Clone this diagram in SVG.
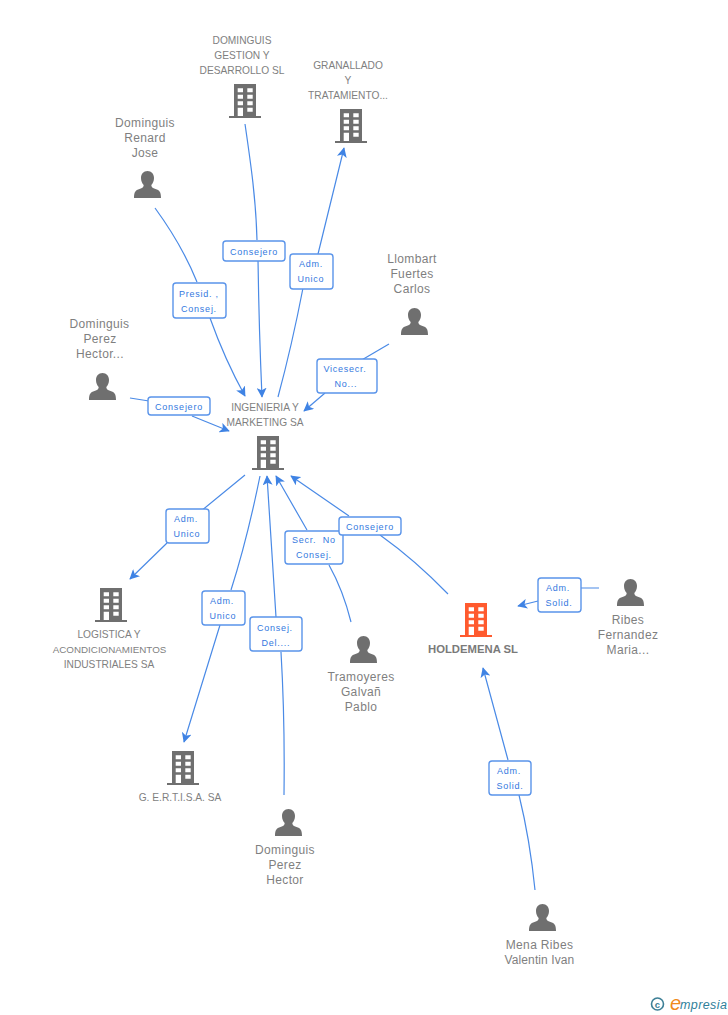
<svg xmlns="http://www.w3.org/2000/svg" width="728" height="1015" viewBox="0 0 728 1015">
<style>
text{font-family:"Liberation Sans",Arial,sans-serif}
.n{font-size:12px;fill:#7f7f7f;text-anchor:middle;letter-spacing:.35px}
.c{font-size:10.2px;fill:#7f7f7f;text-anchor:middle}
.h{font-size:11.300px;font-weight:bold;fill:#7a7a7a;text-anchor:middle}
.l{font-size:9px;fill:#3478e0;text-anchor:middle;letter-spacing:.75px}
.e{fill:none;stroke:#4a8ae6;stroke-width:1.2}
.b{fill:#fff;stroke:#5a94ea;stroke-width:1.4}
</style>
<defs>
<marker id="a" viewBox="0 0 12 12" refX="11" refY="6" markerWidth="10" markerHeight="10" markerUnits="userSpaceOnUse" orient="auto"><path d="M0 0L12 6L0 12L3 6Z" fill="#3f83e4"/></marker>
<g id="bd"><path fill-rule="evenodd" d="M-11 0H11V32H16V34H-16V32H-11ZM-7.300 4.300v4h5.300v-4ZM2.300 4.300v4h5.400v-4ZM-7.300 10.700v4h5.300v-4ZM2.300 10.700v4h5.400v-4ZM-7.300 17.300v4h5.300v-4ZM2.300 17.300v4h5.400v-4ZM-7.300 23.700V32H-2V23.700ZM2.300 23.700v4h5.400v-4Z"/></g>
<g id="pr"><path d="M0 0C4 0 6.500 3 6.500 7C6.500 10 5.300 12.500 3.800 14C3.800 16 5 17 8 18C12 19.300 13.500 21 13.500 27H-13.500C-13.500 21 -12 19.300 -8 18C-5 17 -3.800 16 -3.800 14C-5.300 12.500 -6.500 10 -6.500 7C-6.500 3 -4 0 0 0Z"/></g>
</defs>
<g id="connectors">
<path class="e" d="M245 124C251 165 256 200 257 240"/><path class="e" marker-end="url(#a)" d="M258 260Q259 330 262 397"/>
<path class="e" marker-end="url(#a)" d="M278 397Q292 345 303 288M318 254L344 148"/>
<path class="e" d="M155 208Q182 245 197 282"/><path class="e" marker-end="url(#a)" d="M210 318Q225 360 245 396"/>
<path class="e" d="M389 344L360 361"/><path class="e" marker-end="url(#a)" d="M325 393L304 411"/>
<path class="e" d="M130 398L149 401"/><path class="e" marker-end="url(#a)" d="M192 416L229 431"/>
<path class="e" d="M245 475L195 516M167 543L130 579" marker-end="url(#a)"/>
<path class="e" marker-end="url(#a)" d="M260 476Q247 540 231 590M220 625L184 742"/>
<path class="e" marker-end="url(#a)" d="M284 795Q285 720 281 652M276 617Q272 550 267 476"/>
<path class="e" marker-end="url(#a)" d="M351 622Q343 590 329 565M307 530L276 476"/>
<path class="e" marker-end="url(#a)" d="M448 594Q415 560 380 535M349 516L291 476"/>
<path class="e" marker-end="url(#a)" d="M599 588L581 588M538 601L518 606"/>
<path class="e" marker-end="url(#a)" d="M535 890Q530 840 519 795M508 760L483 668"/>
</g>
<g id="edge-labels">
<g><rect class="b" x="223" y="241" width="62" height="20" rx="3"/><text class="l" x="254" y="255">Consejero</text></g>
<g><rect class="b" x="290" y="254" width="43" height="35" rx="3"/><text class="l" x="311" y="267">Adm.</text><text class="l" x="311" y="282">Unico</text></g>
<g><rect class="b" x="173" y="283" width="53" height="35" rx="3"/><text class="l" x="199" y="297">Presid. ,</text><text class="l" x="199" y="312">Consej.</text></g>
<g><rect class="b" x="317" y="359" width="60" height="34" rx="3"/><text class="l" x="345" y="372">Vicesecr.</text><text class="l" x="346" y="387">No...</text></g>
<g><rect class="b" x="148" y="397" width="62" height="18" rx="3"/><text class="l" x="179" y="410">Consejero</text></g>
<g><rect class="b" x="166" y="509" width="43" height="34" rx="3"/><text class="l" x="186" y="522">Adm.</text><text class="l" x="187" y="537">Unico</text></g>
<g><rect class="b" x="202" y="591" width="43" height="34" rx="3"/><text class="l" x="222" y="604">Adm.</text><text class="l" x="223" y="619">Unico</text></g>
<g><rect class="b" x="250" y="617" width="52" height="34" rx="3"/><text class="l" x="275" y="631">Consej.</text><text class="l" x="276" y="646">Del....</text></g>
<g><rect class="b" x="285" y="531" width="58" height="33" rx="3"/><text class="l" x="314" y="543" xml:space="preserve">Secr.  No</text><text class="l" x="314" y="558">Consej.</text></g>
<g><rect class="b" x="339" y="517" width="62" height="18" rx="3"/><text class="l" x="370" y="530">Consejero</text></g>
<g><rect class="b" x="538" y="578" width="43" height="34" rx="3"/><text class="l" x="558" y="591">Adm.</text><text class="l" x="559" y="606">Solid.</text></g>
<g><rect class="b" x="489" y="761" width="42" height="34" rx="3"/><text class="l" x="509" y="774">Adm.</text><text class="l" x="510" y="789">Solid.</text></g>
</g>
<g id="n1" fill="#6f6f6f"><use href="#bd" x="245" y="84"/><text class="c" x="242" y="44">DOMINGUIS</text><text class="c" x="242" y="59">GESTION Y</text><text class="c" x="242" y="74">DESARROLLO SL</text></g>
<g id="n2" fill="#6f6f6f"><use href="#bd" x="351" y="109"/><text class="c" x="348" y="69">GRANALLADO</text><text class="c" x="348" y="84">Y</text><text class="c" x="348" y="99">TRATAMIENTO...</text></g>
<g id="n3" fill="#6f6f6f"><use href="#pr" x="147.500" y="171"/><text class="n" x="145" y="127">Dominguis</text><text class="n" x="145" y="142">Renard</text><text class="n" x="145" y="157">Jose</text></g>
<g id="n4" fill="#6f6f6f"><use href="#pr" x="414.500" y="308"/><text class="n" x="412" y="263">Llombart</text><text class="n" x="412" y="278">Fuertes</text><text class="n" x="412" y="293">Carlos</text></g>
<g id="n5" fill="#6f6f6f"><use href="#pr" x="102.500" y="373"/><text class="n" x="99.500" y="328">Dominguis</text><text class="n" x="100" y="343">Perez</text><text class="n" x="100" y="358">Hector...</text></g>
<g id="n6" fill="#6f6f6f"><use href="#bd" x="268" y="436"/><text class="c" x="265" y="411">INGENIERIA Y</text><text class="c" x="265" y="426">MARKETING SA</text></g>
<g id="n7" fill="#6f6f6f"><use href="#bd" x="111" y="588"/><text class="c" x="109" y="638">LOGISTICA Y</text><text class="c" x="109.500" y="653" style="font-size:9.800px">ACONDICIONAMIENTOS</text><text class="c" x="109" y="668">INDUSTRIALES SA</text></g>
<g id="n8" fill="#6f6f6f"><use href="#bd" x="183" y="751"/><text class="c" x="180" y="801">G. E.R.T.I.S.A. SA</text></g>
<g id="n9" fill="#6f6f6f"><use href="#pr" x="363.500" y="636"/><text class="n" x="361" y="681">Tramoyeres</text><text class="n" x="361" y="696">Galvañ</text><text class="n" x="361" y="711">Pablo</text></g>
<g id="n10" fill="#6f6f6f"><use href="#pr" x="288.500" y="809"/><text class="n" x="285" y="854">Dominguis</text><text class="n" x="285" y="869">Perez</text><text class="n" x="285" y="884">Hector</text></g>
<g id="n11" fill="#ff5a2e"><use href="#bd" x="476" y="603"/><text class="h" x="473" y="653">HOLDEMENA SL</text></g>
<g id="n12" fill="#6f6f6f"><use href="#pr" x="630.500" y="579"/><text class="n" x="628" y="624">Ribes</text><text class="n" x="628" y="639">Fernandez</text><text class="n" x="628" y="654">Maria...</text></g>
<g id="n13" fill="#6f6f6f"><use href="#pr" x="542.500" y="904"/><text class="n" x="539.500" y="949">Mena Ribes</text><text class="n" x="539.500" y="964" style="letter-spacing:.1px">Valentin Ivan</text></g>
<g id="logo"><circle cx="657.500" cy="1004" r="6" fill="none" stroke="#3d7f96" stroke-width="1.600"/><text x="657.500" y="1007.500" font-size="9.500" font-weight="bold" fill="#3d7f96" text-anchor="middle">c</text><text x="670" y="1010" font-size="20" font-style="italic" fill="#f08a1c" font-family="Liberation Serif">e</text><text x="680" y="1009" font-size="12.500" font-style="italic" fill="#2f7f9a" letter-spacing=".4">mpresia</text></g>
</svg>
